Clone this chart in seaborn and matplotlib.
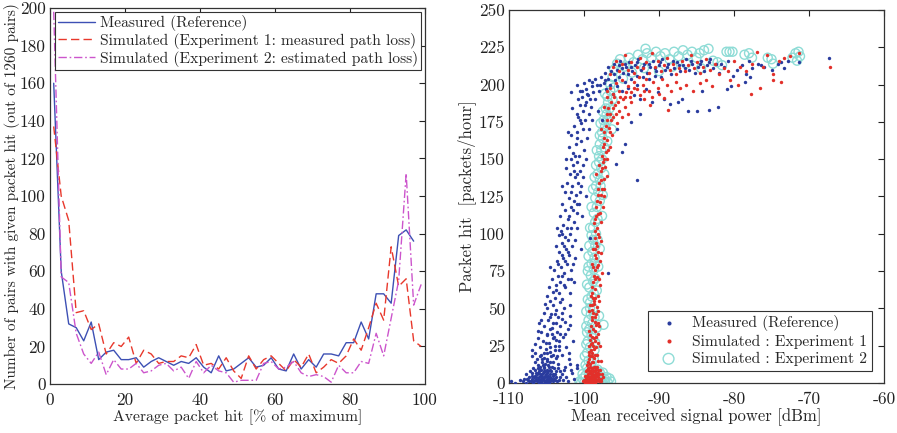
import numpy as np
import pandas as pd
import matplotlib
matplotlib.use("Agg")
import matplotlib.pyplot as plt
import seaborn as sns

# ---- left panel: histogram of average packet hit (bin centres, % of max)
bin_centres = [1, 3, 5, 7, 9, 11, 13, 15, 17, 19, 21, 23, 25, 27, 29, 31, 33, 35, 37, 39,
               41, 43, 45, 47, 49, 51, 53, 55, 57, 59, 61, 63, 65, 67, 69, 71, 73, 75, 77, 79,
               81, 83, 85, 87, 89, 91, 93, 95, 97, 99]
measured_counts = [160, 60, 32, 30, 23, 33, 13, 17, 18, 13, 13, 14, 9, 12, 14, 12, 10, 12, 11, 14,
                   9, 6, 15, 7, 8, 11, 14, 9, 10, 14, 8, 7, 16, 8, 13, 9, 16, 16, 15, 22,
                   22, 33, 24, 48, 48, 43, 79, 82, 76, 46]
exp1_counts = [137, 100, 87, 38, 39, 29, 32, 16, 22, 20, 25, 11, 18, 16, 11, 12, 12, 15, 14, 21,
               10, 11, 8, 14, 7, 3, 15, 8, 13, 15, 11, 7, 13, 9, 16, 6, 9, 13, 11, 15,
               24, 18, 30, 43, 34, 73, 52, 56, 23, 20]
exp2_counts = [198, 57, 54, 27, 16, 11, 17, 5, 13, 8, 8, 11, 6, 7, 10, 11, 7, 9, 3, 12,
               6, 10, 7, 6, 1, 2, 2, 2, 11, 12, 8, 9, 12, 6, 4, 5, 4, 1, 10, 6,
               6, 12, 11, 27, 15, 35, 55, 112, 42, 53]
# the measured curve stops at 97 %
measured_x = bin_centres[:49]
measured_y = measured_counts[:49]

# ---- right panel: mean received power [dBm] vs packet hit [packets/hour]
measured_points = [
    # bottom cluster
    (-109.8, 1), (-109.2, 0), (-108.6, 2), (-108.2, 1), (-108.0, 3), (-107.7, 0), (-107.5, 2),
    (-107.3, 4), (-107.1, 1), (-106.9, 3), (-106.8, 0), (-106.6, 2), (-106.5, 5), (-106.3, 1),
    (-106.2, 3), (-106.0, 0), (-105.9, 2), (-105.8, 4), (-105.7, 1), (-105.6, 6), (-105.5, 3),
    (-105.4, 0), (-105.3, 2), (-105.2, 5), (-105.1, 1), (-105.0, 3), (-104.9, 7), (-104.8, 2),
    (-104.7, 0), (-104.6, 4), (-104.5, 1), (-104.3, 3), (-104.1, 6), (-103.9, 2), (-103.6, 1),
    (-103.2, 4), (-102.8, 2), (-102.2, 1), (-101.3, 3), (-100.9, 12), (-101.8, 9),
    (-106.7, 1), (-106.4, 4), (-106.1, 2), (-105.8, 1), (-105.6, 3), (-105.3, 4), (-105.0, 1),
    (-104.8, 5), (-104.5, 3), (-104.2, 1), (-105.9, 6), (-105.4, 8), (-106.2, 7),
    (-107.6, 3), (-107.4, 1), (-107.0, 5), (-106.9, 7), (-106.7, 4), (-106.5, 9), (-106.4, 2),
    (-106.3, 6), (-106.2, 10), (-106.0, 4), (-106.0, 8), (-105.9, 11), (-105.8, 0), (-105.7, 5),
    (-105.7, 9), (-105.6, 2), (-105.5, 7), (-105.5, 12), (-105.4, 4), (-105.3, 10), (-105.2, 1),
    (-105.2, 13), (-105.1, 6), (-105.0, 9), (-105.0, 0), (-104.9, 4), (-104.8, 8), (-104.7, 11),
    (-104.7, 3), (-104.6, 6), (-104.5, 14), (-104.4, 2), (-104.4, 8), (-104.3, 11), (-104.2, 5),
    (-104.0, 3), (-103.8, 8), (-103.7, 4), (-103.5, 10), (-103.4, 2), (-103.0, 6), (-102.7, 9),
    (-102.4, 4), (-101.9, 13),
    (-107.8, 6), (-107.2, 8), (-106.8, 10), (-106.4, 7), (-106.1, 12), (-105.9, 9), (-105.6, 14),
    (-105.4, 11), (-105.2, 8), (-105.0, 16), (-104.8, 12), (-104.6, 9), (-104.4, 18), (-104.2, 14),
    (-104.0, 10), (-103.8, 17), (-103.5, 13), (-103.2, 8), (-103.0, 19), (-102.6, 11), (-102.0, 16),
    (-101.6, 7), (-105.8, 19), (-106.3, 16), (-104.9, 20), (-103.9, 6), (-105.3, 17), (-101.0, 10),
    (-105.6, 16), (-105.3, 20), (-104.9, 15), (-104.6, 24), (-104.2, 19), (-103.9, 22), (-103.6, 18),
    (-103.3, 25), (-105.9, 18), (-106.6, 14), (-107.0, 18), (-106.6, 20),
    # lower rising arm
    (-106.9, 22), (-106.5, 26), (-106.2, 30), (-105.9, 24), (-105.7, 34), (-105.5, 28), (-105.3, 38),
    (-105.1, 23), (-105.0, 32), (-104.8, 42), (-104.7, 27), (-104.5, 36), (-104.4, 46), (-104.2, 30),
    (-104.1, 40), (-103.9, 25), (-103.8, 49), (-103.6, 34), (-103.5, 44), (-103.3, 28), (-103.2, 38),
    (-103.0, 47), (-102.8, 31), (-102.6, 41), (-102.4, 24), (-102.2, 36), (-101.9, 45), (-101.5, 28),
    (-102.0, 20), (-104.6, 21), (-103.4, 22), (-106.0, 40), (-105.4, 47), (-104.9, 50), (-102.7, 50),
    (-101.9, 39), (-104.3, 33), (-103.7, 29),
    (-105.1, 27), (-104.9, 33), (-104.3, 37), (-104.0, 31), (-103.7, 40), (-103.2, 33), (-102.9, 43),
    (-104.5, 44), (-103.9, 46), (-102.5, 33), (-106.1, 35), (-105.7, 42),
    (-105.2, 53), (-104.9, 58), (-104.7, 64), (-104.5, 55), (-104.3, 70), (-104.2, 61), (-104.0, 76),
    (-103.9, 57), (-103.8, 66), (-103.6, 82), (-103.5, 72), (-103.4, 60), (-103.3, 88), (-103.2, 68),
    (-103.1, 78), (-103.0, 94), (-102.9, 56), (-102.8, 84), (-102.7, 74), (-102.6, 98), (-102.5, 64),
    (-102.4, 90), (-102.3, 80), (-102.2, 70), (-102.1, 96), (-102.0, 86), (-101.9, 60), (-101.8, 76),
    (-101.6, 92), (-101.4, 68), (-101.2, 84), (-104.6, 78), (-103.7, 92), (-103.4, 99), (-100.4, 90),
    (-99.2, 97), (-102.9, 100), (-101.9, 52), (-96.8, 74),
    (-104.1, 52), (-103.7, 62), (-103.2, 54), (-102.7, 66), (-102.9, 72), (-103.5, 80), (-102.5, 82),
    (-101.7, 70), (-103.0, 86), (-102.2, 88), (-101.5, 80), (-102.7, 92),
    # upper rising arm
    (-103.6, 104), (-103.2, 112), (-103.0, 120), (-102.8, 106), (-102.6, 128), (-102.5, 116),
    (-102.3, 134), (-102.2, 110), (-102.0, 124), (-101.9, 140), (-101.8, 118), (-101.7, 104),
    (-101.6, 132), (-101.5, 146), (-101.4, 122), (-101.3, 108), (-101.2, 138), (-101.1, 126),
    (-101.0, 148), (-100.9, 114), (-100.8, 134), (-100.7, 120), (-100.6, 142), (-100.5, 128),
    (-100.3, 112), (-100.1, 138), (-102.9, 132), (-102.4, 144), (-99.8, 125), (-103.1, 102),
    (-101.9, 100), (-102.3, 104), (-101.2, 96), (-102.0, 112), (-101.5, 116), (-100.9, 104),
    (-101.8, 128), (-101.0, 120), (-100.4, 132), (-101.4, 142), (-100.9, 140), (-100.2, 146),
    (-102.4, 150), (-102.0, 158), (-101.8, 166), (-101.5, 154), (-101.3, 172), (-101.1, 160),
    (-101.0, 180), (-100.9, 168), (-100.7, 152), (-100.6, 176), (-100.5, 186), (-100.4, 162),
    (-100.2, 170), (-100.1, 182), (-100.0, 156), (-99.9, 176), (-99.7, 188), (-99.6, 164),
    (-99.4, 180), (-99.3, 170), (-99.1, 185), (-98.9, 176), (-98.6, 190), (-100.8, 190),
    (-101.6, 184), (-102.2, 168), (-99.8, 150), (-98.2, 182), (-97.6, 176),
    (-101.7, 150), (-101.2, 152), (-101.0, 164), (-100.4, 174), (-100.8, 178), (-99.9, 186),
    # knee
    (-101.8, 195), (-100.9, 200), (-100.6, 196), (-100.3, 192), (-100.0, 201), (-99.8, 197),
    (-99.5, 193), (-99.3, 203), (-99.0, 199), (-98.8, 195), (-98.5, 204), (-98.3, 200), (-98.0, 196),
    (-97.7, 205), (-97.4, 201), (-97.1, 197), (-96.8, 204), (-96.5, 200), (-96.2, 194), (-95.9, 203),
    (-95.6, 199), (-95.3, 205), (-95.0, 196), (-94.6, 202), (-94.2, 198), (-93.8, 204), (-93.4, 193),
    (-93.0, 200), (-92.5, 190), (-91.8, 197), (-91.0, 188), (-90.2, 195), (-89.4, 190), (-88.5, 187),
    (-87.5, 188), (-100.3, 196), (-99.6, 194), (-99.2, 190), (-98.9, 202), (-97.9, 200), (-97.2, 203),
    # saturated band
    (-97.2, 208), (-96.8, 212), (-96.4, 209), (-96.0, 214), (-95.6, 210), (-95.2, 216), (-94.8, 208),
    (-94.4, 212), (-94.0, 215), (-93.6, 209), (-93.2, 213), (-92.8, 217), (-92.4, 210), (-92.0, 214),
    (-91.6, 208), (-91.2, 212), (-90.8, 216), (-90.4, 209), (-90.0, 213), (-89.6, 217), (-89.2, 210),
    (-88.8, 214), (-88.4, 207), (-88.0, 211), (-87.6, 215), (-87.2, 209), (-86.8, 213), (-86.4, 217),
    (-86.0, 210), (-85.6, 214), (-85.2, 208), (-84.8, 212), (-84.4, 216), (-84.0, 209), (-83.6, 213),
    (-83.2, 217), (-82.8, 211), (-82.4, 214), (-82.0, 208), (-81.4, 212), (-80.8, 216), (-80.2, 206),
    (-79.6, 210), (-79.0, 213), (-78.4, 207), (-77.6, 211), (-76.8, 214), (-76.0, 212), (-75.0, 210),
    (-74.2, 214), (-73.4, 211), (-72.8, 216), (-71.4, 215), (-67.3, 218),
    (-95.0, 211), (-94.2, 207), (-93.0, 206), (-92.2, 205), (-91.4, 204), (-90.6, 206), (-89.8, 205),
    (-96.0, 207), (-95.4, 213), (-94.6, 214), (-93.8, 212), (-93.0, 215), (-92.2, 212), (-91.4, 214),
    (-90.6, 211), (-89.9, 215), (-89.0, 212), (-88.2, 216), (-87.4, 213), (-86.6, 211), (-85.8, 216),
    (-84.6, 214), (-83.4, 215), (-81.8, 214), (-78.0, 216), (-76.4, 213), (-73.8, 215),
    # sparse outliers
    (-86.2, 182), (-85.0, 182), (-83.3, 183), (-82.1, 185), (-87.0, 190), (-84.3, 196), (-81.0, 197),
    (-80.4, 199), (-78.5, 202), (-77.9, 205), (-92.6, 180), (-93.8, 175), (-94.5, 160), (-95.0, 155),
    (-95.8, 147), (-92.9, 136), (-95.6, 170),
]

exp1_points = [
    (-100.2, 1), (-99.9, 0), (-99.8, 3), (-99.7, 1), (-99.6, 5), (-99.5, 2), (-99.4, 0), (-99.3, 4),
    (-99.2, 7), (-99.1, 1), (-99.0, 3), (-98.9, 6), (-98.8, 0), (-98.7, 2), (-98.6, 8), (-98.5, 4),
    (-98.4, 1), (-98.3, 5), (-98.2, 9), (-98.1, 2), (-98.0, 6), (-97.9, 3), (-97.7, 1), (-97.5, 4),
    (-99.6, 9), (-99.0, 10), (-98.4, 10), (-99.3, 1), (-98.9, 2), (-98.6, 3), (-99.1, 5), (-98.3, 7),
    (-100.0, 2), (-99.9, 5), (-99.8, 8), (-99.7, 4), (-99.6, 0), (-99.5, 6), (-99.5, 10), (-99.4, 3),
    (-99.4, 7), (-99.3, 9), (-99.2, 2), (-99.2, 11), (-99.1, 4), (-99.1, 8), (-99.0, 0), (-99.0, 6),
    (-98.9, 10), (-98.9, 4), (-98.8, 2), (-98.8, 8), (-98.7, 5), (-98.7, 11), (-98.6, 0), (-98.6, 6),
    (-98.5, 9), (-98.5, 1), (-98.4, 5), (-98.3, 2), (-98.3, 11), (-98.2, 4), (-98.1, 7), (-98.0, 1),
    (-97.9, 9), (-97.8, 3), (-97.6, 6),
    (-99.6, 12), (-99.4, 16), (-99.3, 21), (-99.2, 13), (-99.1, 26), (-99.0, 18), (-98.9, 31),
    (-98.8, 14), (-98.8, 36), (-98.7, 23), (-98.6, 41), (-98.5, 28), (-98.4, 46), (-98.3, 19),
    (-98.2, 33), (-98.1, 48), (-98.0, 38), (-97.9, 25), (-99.0, 44), (-98.9, 49), (-98.6, 11),
    (-99.3, 35), (-97.8, 15), (-99.2, 29), (-98.7, 17), (-98.4, 39),
    (-99.5, 14), (-99.4, 19), (-99.3, 25), (-99.2, 18), (-99.2, 32), (-99.1, 22), (-99.1, 38),
    (-99.0, 14), (-99.0, 27), (-98.9, 20), (-98.9, 42), (-98.8, 25), (-98.8, 47), (-98.7, 30),
    (-98.7, 53), (-98.6, 19), (-98.6, 35), (-98.5, 44), (-98.5, 57), (-98.4, 24), (-98.4, 31),
    (-98.3, 51), (-98.2, 40), (-98.2, 15), (-98.1, 27), (-98.0, 55), (-99.1, 58), (-98.8, 57),
    (-99.4, 48), (-99.2, 52),
    (-99.0, 52), (-98.9, 60), (-98.8, 68), (-98.7, 55), (-98.6, 76), (-98.5, 63), (-98.4, 84),
    (-98.3, 71), (-98.3, 92), (-98.2, 58), (-98.1, 79), (-98.0, 98), (-97.9, 66), (-97.8, 87),
    (-97.7, 95), (-98.8, 90), (-98.6, 97), (-98.9, 80), (-97.6, 74),
    (-98.9, 64), (-98.7, 72), (-98.8, 78), (-98.6, 86), (-98.5, 70), (-98.4, 94), (-98.3, 78),
    (-98.2, 100), (-98.1, 88), (-98.0, 70), (-97.9, 82), (-98.5, 90),
    (-98.6, 102), (-98.5, 110), (-98.4, 118), (-98.3, 104), (-98.2, 126), (-98.1, 113), (-98.0, 134),
    (-97.9, 121), (-97.8, 142), (-97.7, 108), (-97.6, 130), (-97.5, 148), (-97.4, 137), (-97.3, 125),
    (-97.2, 145), (-97.0, 139), (-98.4, 140), (-96.9, 150),
    (-98.7, 107), (-98.4, 112), (-98.3, 122), (-98.1, 130), (-97.9, 114), (-97.8, 126), (-97.7, 136),
    (-97.6, 144), (-97.5, 118), (-97.4, 130), (-98.0, 146), (-97.3, 150),
    (-97.6, 152), (-97.4, 160), (-97.3, 168), (-97.1, 155), (-97.0, 176), (-96.9, 163), (-96.8, 184),
    (-96.7, 171), (-96.6, 158), (-96.5, 180), (-96.4, 188), (-96.3, 166), (-96.1, 178), (-95.9, 186),
    (-95.6, 174), (-95.3, 182), (-95.0, 178), (-94.6, 185), (-94.2, 180), (-93.8, 188),
    (-97.5, 158), (-97.3, 164), (-97.1, 172), (-96.9, 180), (-96.8, 156), (-96.6, 168), (-96.4, 176),
    (-96.2, 184), (-96.0, 192), (-95.8, 180), (-95.5, 188), (-95.2, 192), (-94.8, 190), (-94.4, 195),
    (-93.9, 192), (-93.3, 198), (-92.7, 205), (-92.0, 196), (-91.0, 192), (-90.0, 194), (-89.3, 191),
    (-96.9, 196), (-97.3, 185), (-97.8, 170),
    (-97.0, 192), (-96.6, 198), (-96.2, 194), (-95.8, 201), (-95.4, 196), (-95.0, 203), (-94.6, 192),
    (-94.2, 199), (-93.8, 195), (-93.4, 202), (-93.0, 197), (-92.6, 193), (-92.2, 200), (-91.8, 204),
    (-91.3, 196), (-90.8, 202), (-90.2, 198), (-89.6, 204), (-89.0, 200), (-88.4, 196), (-87.8, 202),
    (-87.2, 198), (-86.4, 200), (-85.5, 196), (-84.6, 201), (-83.8, 203), (-82.9, 199), (-80.6, 203),
    (-79.5, 200), (-77.8, 194), (-76.5, 198), (-74.8, 203), (-73.8, 202), (-91.2, 186), (-88.8, 183),
    (-92.0, 190),
    (-96.6, 207), (-96.2, 212), (-95.8, 216), (-95.4, 209), (-95.0, 214), (-94.6, 220), (-94.2, 210),
    (-93.8, 215), (-93.4, 208), (-93.0, 212), (-92.6, 218), (-92.2, 211), (-91.8, 215), (-91.4, 208),
    (-91.0, 221), (-90.6, 212), (-90.2, 216), (-89.8, 209), (-89.4, 213), (-89.0, 218), (-88.6, 210),
    (-88.2, 214), (-87.8, 207), (-87.4, 211), (-87.0, 216), (-86.6, 209), (-86.2, 213), (-85.8, 220),
    (-85.4, 211), (-85.0, 215), (-84.6, 208), (-84.2, 212), (-83.8, 217), (-83.2, 210), (-82.6, 214),
    (-82.0, 207), (-81.4, 211), (-80.8, 209), (-80.0, 216), (-79.2, 212), (-78.4, 209), (-77.6, 214),
    (-77.0, 222), (-76.2, 212), (-75.6, 220), (-74.8, 207), (-74.0, 216), (-73.4, 218), (-72.6, 219),
    (-71.4, 221), (-67.2, 212),
]

exp2_points = [
    (-100.4, 0), (-100.0, 0), (-99.6, 1), (-99.2, 0), (-98.8, 1), (-98.4, 0), (-98.0, 1), (-97.6, 0),
    (-97.2, 1), (-96.8, 0), (-96.4, 1), (-100.2, 3), (-99.8, 5), (-99.4, 8), (-99.0, 3), (-98.6, 6),
    (-98.2, 9), (-97.8, 4), (-97.5, 7), (-97.3, 3),
    (-100.2, 6), (-99.2, 4), (-98.8, 8), (-97.9, 7), (-96.6, 3), (-100.6, 1), (-97.0, 4),
    (-99.8, 12), (-99.4, 15), (-99.6, 20), (-99.2, 24), (-99.5, 28), (-99.0, 32), (-99.3, 36),
    (-98.9, 40), (-99.4, 42), (-99.1, 46), (-98.7, 16), (-98.5, 27), (-98.3, 37), (-98.0, 45),
    (-97.4, 39), (-98.8, 50), (-99.7, 38),
    (-99.6, 10), (-99.0, 14), (-99.9, 18), (-98.6, 22), (-99.7, 26), (-98.8, 30), (-99.6, 34),
    (-98.6, 44), (-99.7, 48), (-99.2, 50),
    (-99.2, 54), (-99.0, 58), (-99.3, 64), (-98.8, 68), (-99.1, 72), (-98.7, 76), (-99.0, 80),
    (-98.6, 84), (-98.9, 88), (-98.5, 92), (-98.8, 96), (-98.4, 100), (-98.3, 62), (-98.1, 78),
    (-97.9, 90), (-99.4, 85), (-99.5, 75),
    (-99.5, 56), (-98.7, 60), (-99.6, 66), (-98.5, 70), (-99.4, 78), (-98.6, 80), (-99.3, 92),
    (-98.2, 96),
    (-98.8, 104), (-98.5, 108), (-98.7, 114), (-98.3, 118), (-98.5, 124), (-98.1, 128), (-98.4, 132),
    (-97.9, 136), (-98.2, 140), (-97.7, 144), (-98.0, 148), (-97.6, 112), (-97.5, 126), (-97.3, 140),
    (-99.0, 99),
    (-99.2, 104), (-98.2, 110), (-99.0, 118), (-97.9, 122), (-98.8, 130), (-97.8, 132), (-98.6, 138),
    (-97.6, 150), (-98.4, 146),
    (-98.0, 152), (-97.7, 156), (-97.9, 160), (-97.5, 164), (-97.6, 168), (-97.2, 172), (-97.4, 176),
    (-97.0, 180), (-97.1, 184), (-96.8, 188), (-96.9, 192), (-96.5, 196), (-96.2, 190), (-96.6, 178),
    (-96.9, 162), (-96.3, 170),
    (-98.3, 156), (-97.3, 158), (-97.9, 166), (-97.8, 174), (-96.9, 176), (-97.5, 182), (-96.6, 184),
    (-97.2, 194), (-96.0, 198),
    (-96.5, 200), (-96.2, 205), (-96.0, 210), (-95.6, 214), (-95.2, 217), (-94.6, 212), (-94.0, 218),
    (-93.4, 215), (-92.8, 220), (-92.2, 217), (-91.6, 221), (-91.0, 218), (-90.4, 222), (-89.8, 219),
    (-89.2, 221), (-88.6, 217), (-88.0, 222), (-87.4, 219), (-86.8, 223), (-86.2, 220), (-85.6, 222),
    (-85.0, 218), (-84.6, 221), (-84.0, 223), (-83.4, 224), (-82.8, 216), (-82.2, 215), (-81.6, 213),
    (-81.0, 222), (-80.6, 222), (-80.2, 222), (-78.6, 220), (-78.0, 221), (-77.6, 218), (-75.5, 218),
    (-75.0, 217), (-74.8, 214), (-72.2, 218), (-71.8, 221), (-71.4, 222), (-71.2, 219), (-71.6, 216),
    (-94.8, 204), (-93.6, 208), (-92.0, 211), (-90.0, 209), (-88.2, 212), (-86.4, 214), (-84.4, 211),
    (-91.8, 224),
]

left_xticks = [0, 20, 40, 60, 80, 100]
left_yticks = [0, 20, 40, 60, 80, 100, 120, 140, 160, 180, 200]
right_xticks = [-110, -100, -90, -80, -70, -60]
right_yticks = [0, 25, 50, 75, 100, 125, 150, 175, 200, 225, 250]

sns.set_style("white")
plt.rcParams["font.family"] = ["cmr10", "DejaVu Serif"]
plt.rcParams["axes.unicode_minus"] = False
plt.rcParams["mathtext.fontset"] = "cm"
plt.rcParams["font.size"] = 11

fig = plt.figure(figsize=(8.97, 4.33), dpi=100)
ax1 = fig.add_axes([0.0557, 0.113, 0.418, 0.8685])
ax2 = fig.add_axes([0.5675, 0.1155, 0.418, 0.8615])

# ---- left panel
sns.lineplot(x=measured_x, y=measured_y, ax=ax1, color="#3d50b4", lw=1.0,
             label="Measured (Reference)")
sns.lineplot(x=bin_centres, y=exp1_counts, ax=ax1, color="#e8382c", lw=1.0,
             label="Simulated (Experiment 1: measured path loss)")
sns.lineplot(x=bin_centres, y=exp2_counts, ax=ax1, color="#cc55cc", lw=1.0,
             label="Simulated (Experiment 2: estimated path loss)")
ax1.lines[1].set_dashes((6, 3))
ax1.lines[2].set_dashes((6, 2, 1.2, 2))

ax1.set_xlim(0, 100)
ax1.set_ylim(0, 200)
ax1.set_xticks(left_xticks)
ax1.set_yticks(left_yticks)
ax1.set_xlabel("Average packet hit [% of maximum]", labelpad=1, fontsize=11.3)
ax1.set_ylabel("Number of pairs with given packet hit (out of 1260 pairs)", labelpad=0,
               fontsize=11)
leg1 = ax1.legend(loc="upper right", frameon=True, fancybox=False, framealpha=1,
                  edgecolor="#333333", handlelength=2.4, handletextpad=0.3,
                  borderpad=0.2, labelspacing=0.12, borderaxespad=0.25, fontsize=11.2)
leg1.get_frame().set_linewidth(0.8)
for h in leg1.get_lines():
    h.set_linewidth(1.0)

# ---- right panel
meas_df = pd.DataFrame(measured_points, columns=["power", "hit"])
exp1_df = pd.DataFrame(exp1_points, columns=["power", "hit"])
exp2_df = pd.DataFrame(exp2_points, columns=["power", "hit"])

sns.scatterplot(data=meas_df, x="power", y="hit", ax=ax2, color="#2a3c9e", s=6,
                linewidth=0, label="Measured (Reference)", zorder=3)
sns.scatterplot(data=exp1_df, x="power", y="hit", ax=ax2, color="#e2302a", s=6,
                linewidth=0, label="Simulated : Experiment 1", zorder=4)
sns.scatterplot(data=exp2_df, x="power", y="hit", ax=ax2, facecolor="none",
                edgecolor="#8edcd6", s=42, linewidth=1.0,
                label="Simulated : Experiment 2", zorder=2)

ax2.set_xlim(-110, -60)
ax2.set_ylim(0, 250)
ax2.set_xticks(right_xticks)
ax2.set_yticks(right_yticks)
ax2.set_xlabel("Mean received signal power [dBm]", labelpad=1, fontsize=12)
ax2.set_ylabel("Packet hit  [packets/hour]", labelpad=2, fontsize=12)
leg2 = ax2.legend(loc="lower right", frameon=True, fancybox=False, framealpha=1,
                  edgecolor="#333333", handletextpad=0.5, borderpad=0.3,
                  labelspacing=0.2, borderaxespad=0.8, markerscale=1.2, fontsize=11.2)
leg2.get_frame().set_linewidth(0.8)

for ax in (ax1, ax2):
    ax.tick_params(direction="in", length=4, width=0.8, top=True, right=True,
                   labelsize=12.5, colors="#222222")
    ax.tick_params(axis="x", pad=6)
    ax.tick_params(axis="y", pad=3)
    for sp in ax.spines.values():
        sp.set_visible(True)
        sp.set_linewidth(0.9)
        sp.set_color("#333333")

fig.savefig("out.png", dpi=100)
